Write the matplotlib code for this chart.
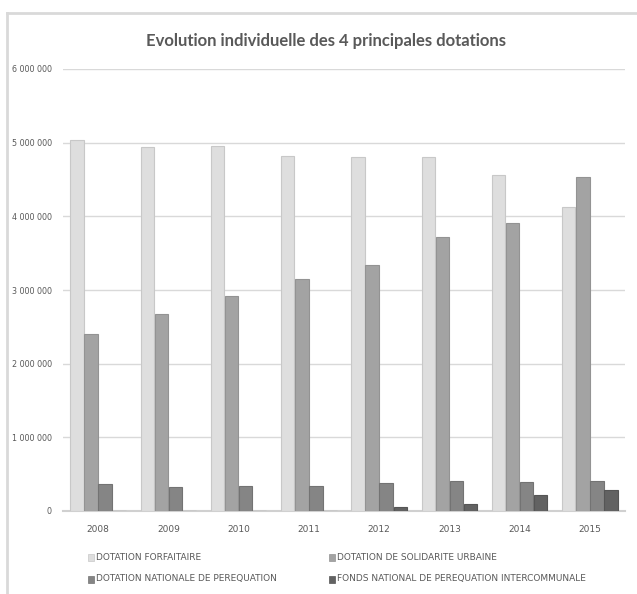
import matplotlib
matplotlib.use("Agg")
import matplotlib.pyplot as plt
from matplotlib.patches import Rectangle
import numpy as np

years = ["2008", "2009", "2010", "2011", "2012", "2013", "2014", "2015"]
forfaitaire = [5030000, 4940000, 4950000, 4820000, 4800000, 4800000, 4560000, 4130000]
solidarite = [2400000, 2680000, 2920000, 3150000, 3340000, 3720000, 3910000, 4540000]
perequation = [360000, 320000, 340000, 340000, 380000, 410000, 390000, 410000]
intercommunal = [0, 0, 0, 0, 50000, 95000, 220000, 290000]

series_names = ["DOTATION FORFAITAIRE", "DOTATION DE SOLIDARITE URBAINE",
                "DOTATION NATIONALE DE PEREQUATION",
                "FONDS NATIONAL DE PEREQUATION INTERCOMMUNALE"]
colors = ["#dedede", "#a3a3a3", "#858585", "#626262"]
edges = ["#c8c8c8", "#939393", "#737373", "#555555"]

narrow = ["Liberation Sans Narrow", "DejaVu Sans"]
text_gray = "#595959"

fig = plt.figure(figsize=(6.37, 5.94), dpi=100)

# chart frame (Excel style)
fig.add_artist(plt.Line2D([7 / 637, 7 / 637], [0, 1 - 13 / 594], color="#d9d9d9", lw=2))
fig.add_artist(plt.Line2D([7 / 637, 1], [1 - 13 / 594, 1 - 13 / 594], color="#d9d9d9", lw=2))

ax = fig.add_axes([63 / 637, 83 / 594, 562 / 637, 442 / 594])
x = np.arange(len(years))
w = 0.2
data = [forfaitaire, solidarite, perequation, intercommunal]
for i, vals in enumerate(data):
    ax.bar(x + (i - 1.5) * w, vals, w * 0.95, color=colors[i],
           edgecolor=edges[i], linewidth=0.8, label=series_names[i], zorder=3)

ax.set_xlim(-0.5, len(years) - 0.5)
ax.set_ylim(0, 6000000)
ax.set_yticks(range(0, 6000001, 1000000))
ax.set_yticklabels(["0" if v == 0 else f"{v:,}".replace(",", " ")
                    for v in range(0, 6000001, 1000000)],
                   family=narrow, fontsize=5.8, color=text_gray)
ax.set_xticks(x)
ax.set_xticklabels(years, family=narrow, fontsize=6.5, color=text_gray)
ax.tick_params(length=0)
ax.tick_params(axis="y", pad=8)
ax.tick_params(axis="x", pad=10)
ax.grid(axis="y", color="#d9d9d9", lw=1, zorder=0)
for s in ["top", "right", "left"]:
    ax.spines[s].set_visible(False)
ax.spines["bottom"].set_color("#d0d0d0")
ax.spines["bottom"].set_linewidth(1.5)

fig.text(326 / 637, 1 - 41 / 594, "Evolution individuelle des 4 principales dotations",
         ha="center", va="center", fontsize=12, fontweight="bold",
         family=["Lato", "DejaVu Sans"], color=text_gray)

# legend, two columns
legend_pos = [(88, 557), (329, 557), (88, 579), (329, 579)]
for i, (lx, ly) in enumerate(legend_pos):
    fig.add_artist(Rectangle((lx / 637, 1 - (ly + 3.5) / 594), 6 / 637, 7 / 594,
                             facecolor=colors[i], edgecolor=edges[i], lw=0.5,
                             transform=fig.transFigure))
    fig.text((lx + 8) / 637, 1 - ly / 594, series_names[i], ha="left", va="center",
             fontsize=6.5, family=narrow, color=text_gray)

fig.savefig("out.png", dpi=100)
